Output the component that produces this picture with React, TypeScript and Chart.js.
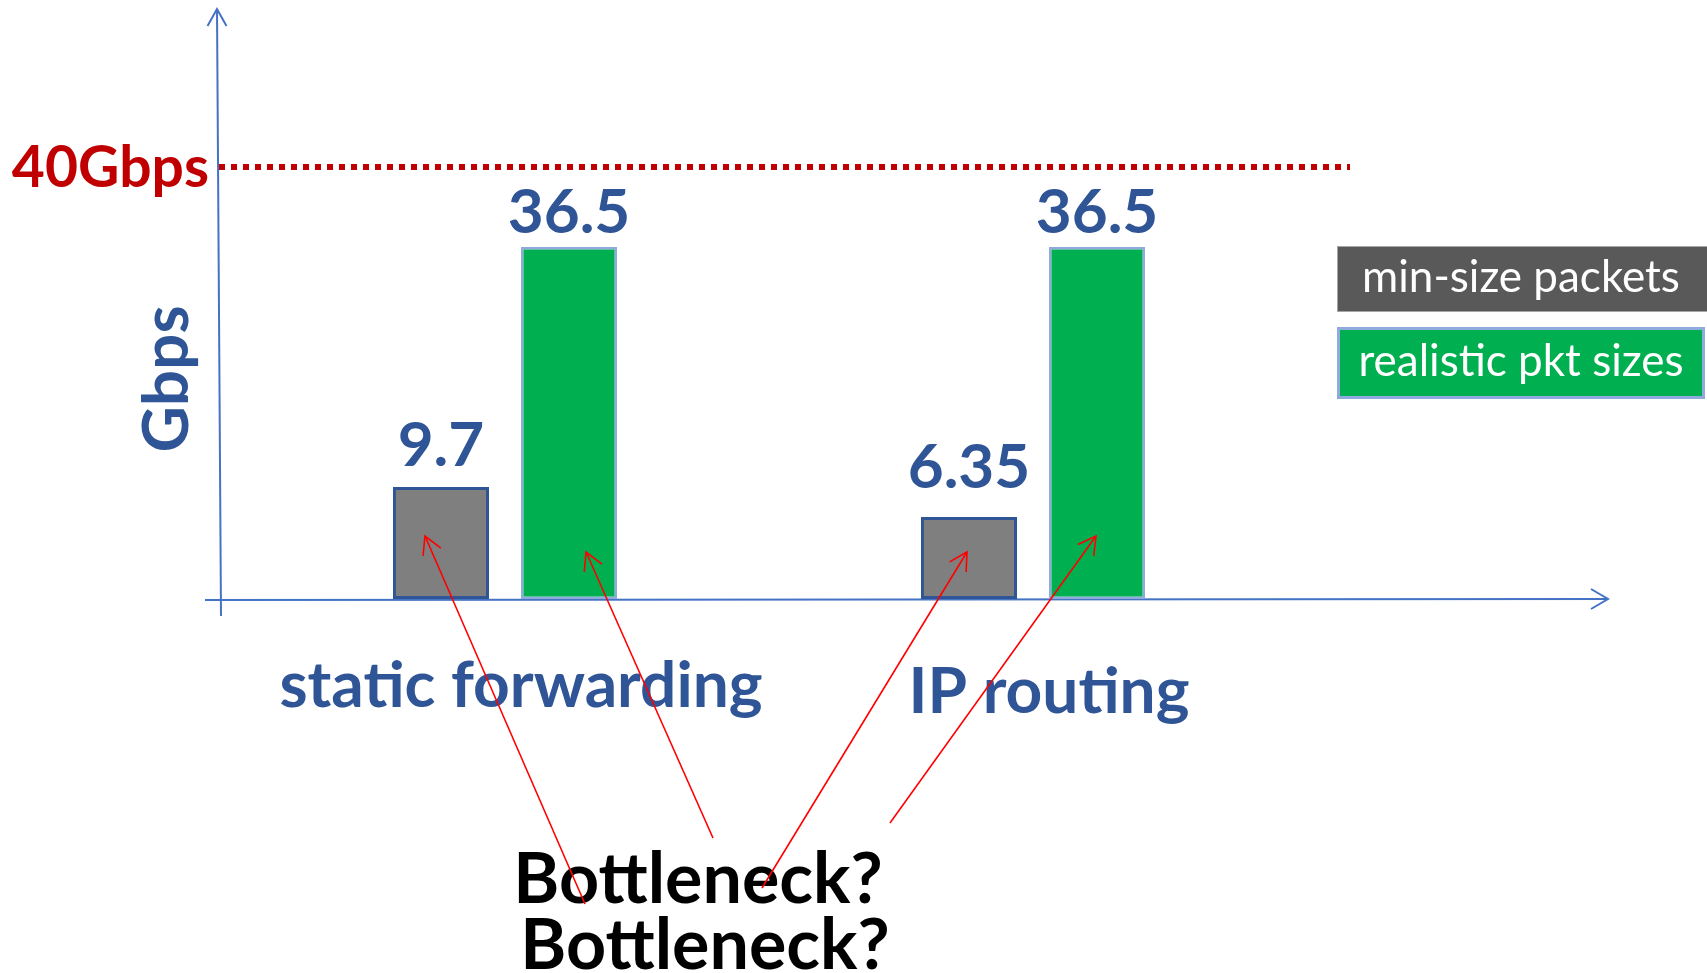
import React, { useEffect, useRef } from "react";
import { Chart, registerables } from "chart.js";

Chart.register(...registerables);

// ---------- data ----------
const categories = ["static forwarding", "IP routing"];
const seriesNames = ["min-size packets", "realistic pkt sizes"];
const minSizeValues = [9.7, 6.35];
const realisticValues = [36.5, 36.5];
const thresholdValue = 40;
const thresholdLabel = "40Gbps";
const yAxisTitle = "Gbps";
const calloutLines = ["Bottleneck?", "Bottleneck?"];

// ---------- scale / style settings ----------
const Y_MIN = -2.8;
const Y_MAX = 62.75;
const Y2_MAX = 54.35;

const BLUE_TEXT = "#2F5597";
const AXIS_BLUE = "#4472C4";
const DARK_RED = "#C00000";
const BAR_GRAY = "#7F7F7F";
const BAR_GREEN = "#00B050";
const GREEN_BORDER = "#8FAADC";
const LEGEND_GRAY = "#595959";
const FONT = 'Lato, "Open Sans", sans-serif';

const LABEL_GAPS = [
  [21, 29],
  [14, 14],
];
const CATEGORY_DX = 16;
const CATEGORY_BASELINES = [707, 713];

const ARROWS = [
  { ds: 0, idx: 0, dx: -16, dy: 63, tail: [585, 904] },
  { ds: 1, idx: 0, dx: 17, dy: 47, tail: [713, 838] },
  { ds: 0, idx: 1, dx: -2, dy: 47, tail: [762, 888] },
  { ds: 1, idx: 1, dx: -1, dy: 63, tail: [890, 823] },
];

const LEGEND_BOXES = [
  { x: 1337, y: 246, w: 372, h: 66, fill: LEGEND_GRAY, border: "#A6A6A6", bw: 1, baseline: 292 },
  { x: 1337, y: 327, w: 368, h: 72, fill: BAR_GREEN, border: GREEN_BORDER, bw: 3, baseline: 376 },
];

function drawArrowHead(ctx: CanvasRenderingContext2D, tx: number, ty: number, fx: number, fy: number, len: number, ang: number) {
  const a = Math.atan2(fy - ty, fx - tx);
  ctx.beginPath();
  ctx.moveTo(tx + len * Math.cos(a + ang), ty + len * Math.sin(a + ang));
  ctx.lineTo(tx, ty);
  ctx.lineTo(tx + len * Math.cos(a - ang), ty + len * Math.sin(a - ang));
  ctx.stroke();
}

const overlayPlugin = {
  id: "overlay",
  beforeDatasetsDraw(chart: any) {
    const ctx: CanvasRenderingContext2D = chart.ctx;
    const yS = chart.scales.y;
    const y2S = chart.scales.y2;
    const base = yS.getPixelForValue(Y_MIN);
    ctx.save();
    // axes
    ctx.strokeStyle = AXIS_BLUE;
    ctx.lineWidth = 2;
    ctx.beginPath();
    ctx.moveTo(217, 9);
    ctx.lineTo(221, 616);
    ctx.stroke();
    ctx.beginPath();
    ctx.moveTo(207.5, 26);
    ctx.lineTo(217, 9);
    ctx.lineTo(226.5, 26);
    ctx.stroke();
    ctx.beginPath();
    ctx.moveTo(205, base + 1);
    ctx.lineTo(1608, base);
    ctx.stroke();
    ctx.beginPath();
    ctx.moveTo(1591, base - 10);
    ctx.lineTo(1608, base);
    ctx.lineTo(1591, base + 10);
    ctx.stroke();

    // threshold line
    const ty = y2S.getPixelForValue(thresholdValue);
    ctx.strokeStyle = DARK_RED;
    ctx.lineWidth = 6;
    ctx.setLineDash([6, 6]);
    ctx.beginPath();
    ctx.moveTo(219, ty);
    ctx.lineTo(1350, ty);
    ctx.stroke();
    ctx.setLineDash([]);

    ctx.fillStyle = DARK_RED;
    ctx.font = `bold 57px ${FONT}`;
    ctx.textAlign = "right";
    ctx.textBaseline = "alphabetic";
    ctx.fillText(thresholdLabel, 209, ty + 20);

    // y axis title
    ctx.save();
    ctx.translate(188, 379);
    ctx.rotate(-Math.PI / 2);
    ctx.fillStyle = BLUE_TEXT;
    ctx.font = `bold 64px ${FONT}`;
    ctx.textAlign = "center";
    ctx.fillText(yAxisTitle, 0, 0);
    ctx.restore();
    ctx.restore();
  },
  afterDatasetsDraw(chart: any) {
    const ctx: CanvasRenderingContext2D = chart.ctx;
    const xS = chart.scales.x;
    const yS = chart.scales.y;
    const base = yS.getPixelForValue(Y_MIN);
    ctx.save();
    ctx.textBaseline = "alphabetic";
    ctx.textAlign = "center";

    // value labels
    ctx.fillStyle = BLUE_TEXT;
    ctx.font = `bold 62px ${FONT}`;
    chart.data.datasets.forEach((ds: any, i: number) => {
      const meta = chart.getDatasetMeta(i);
      meta.data.forEach((bar: any, j: number) => {
        ctx.fillText(String(ds.data[j]), bar.x, bar.y - LABEL_GAPS[i][j]);
      });
    });

    // category labels
    ctx.font = `bold 64px ${FONT}`;
    categories.forEach((c, j) => {
      ctx.fillText(c, xS.getPixelForValue(j) + CATEGORY_DX, CATEGORY_BASELINES[j]);
    });

    // legend boxes
    chart.data.datasets.forEach((ds: any, i: number) => {
      const b = LEGEND_BOXES[i];
      ctx.fillStyle = b.fill;
      ctx.fillRect(b.x, b.y, b.w, b.h);
      ctx.strokeStyle = b.border;
      ctx.lineWidth = b.bw;
      ctx.strokeRect(b.x + b.bw / 2, b.y + b.bw / 2, b.w - b.bw, b.h - b.bw);
      ctx.fillStyle = "#FFFFFF";
      ctx.font = `44px ${FONT}`;
      ctx.fillText(ds.label, 1521, b.baseline);
    });

    // callout text
    ctx.fillStyle = "#000000";
    ctx.font = `bold 70px ${FONT}`;
    ctx.fillText(calloutLines[0], 698, 903);
    ctx.fillText(calloutLines[1], 705, 969);

    // red arrows
    ctx.strokeStyle = "#FF0000";
    ctx.lineWidth = 1.6;
    ARROWS.forEach((a) => {
      const bar = chart.getDatasetMeta(a.ds).data[a.idx];
      const tx = bar.x + a.dx;
      const ty = base - a.dy;
      ctx.beginPath();
      ctx.moveTo(a.tail[0], a.tail[1]);
      ctx.lineTo(tx, ty);
      ctx.stroke();
      drawArrowHead(ctx, tx, ty, a.tail[0], a.tail[1], 20, (29 * Math.PI) / 180);
    });
    ctx.restore();
  },
};

export default function App() {
  const ref = useRef<HTMLCanvasElement>(null);
  useEffect(() => {
    if (!ref.current) return;
    const chart = new Chart(ref.current, {
      type: "bar",
      data: {
        labels: categories,
        datasets: [
          {
            label: seriesNames[0],
            data: minSizeValues,
            backgroundColor: BAR_GRAY,
            borderColor: BLUE_TEXT,
            borderWidth: 3,
            borderSkipped: false,
            base: Y_MIN,
            categoryPercentage: 0.485,
            barPercentage: 0.75,
            yAxisID: "y",
          } as any,
          {
            label: seriesNames[1],
            data: realisticValues,
            backgroundColor: BAR_GREEN,
            borderColor: GREEN_BORDER,
            borderWidth: 2.5,
            borderSkipped: false,
            base: Y_MIN,
            categoryPercentage: 0.485,
            barPercentage: 0.75,
            yAxisID: "y",
          } as any,
        ],
      },
      options: {
        animation: false,
        responsive: true,
        maintainAspectRatio: false,
        layout: { padding: { left: 241, right: 410, top: 12, bottom: 374 } },
        scales: {
          x: { display: false, offset: true },
          y: { display: false, min: Y_MIN, max: Y_MAX },
          y2: { display: false, min: 0, max: Y2_MAX, position: "right" },
        },
        plugins: {
          legend: { display: false },
          tooltip: { enabled: false },
        },
      },
      plugins: [overlayPlugin],
    });
    return () => chart.destroy();
  }, []);
  return (
    <div style={{ position: "absolute", left: 0, top: 0, width: 1707, height: 973, background: "#FFFFFF" }}>
      <canvas ref={ref} />
    </div>
  );
}
